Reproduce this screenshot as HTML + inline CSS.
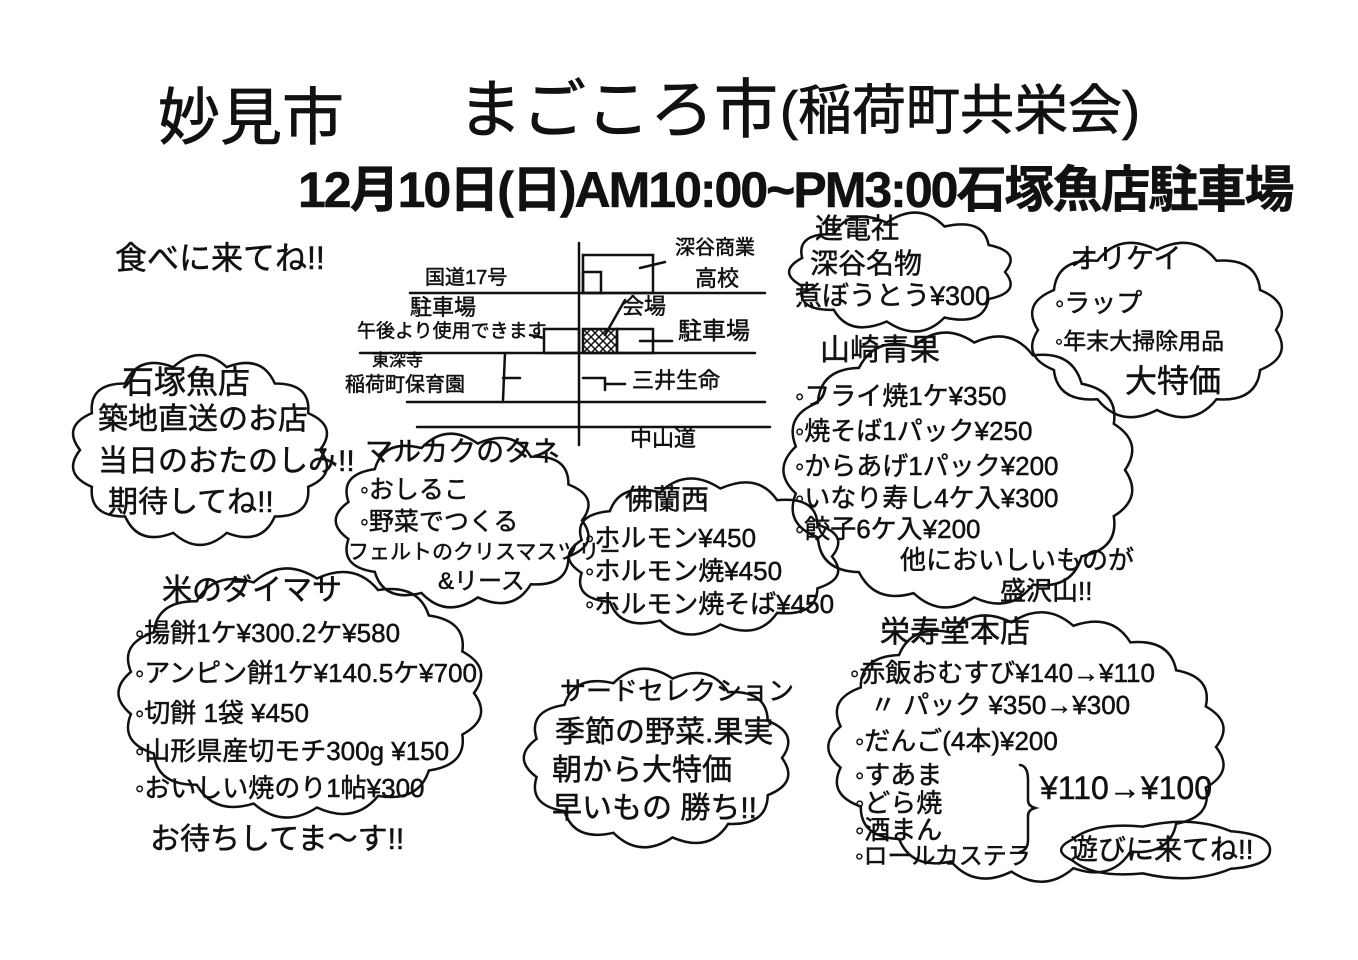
<!DOCTYPE html>
<html><head><meta charset="utf-8">
<style>
html,body{margin:0;padding:0;background:#fff;}
#w{position:relative;width:1358px;height:960px;overflow:hidden;background:#fff;font-family:"Liberation Sans","Noto Sans CJK JP",sans-serif;color:#111;}
.t{position:absolute;white-space:nowrap;line-height:1;-webkit-text-stroke:0.5px #111;}
svg{position:absolute;left:0;top:0;}
</style></head><body><div id="w">
<svg id="s" width="1358" height="960" viewBox="0 0 1358 960" fill="none" stroke="#111" stroke-width="2.5" stroke-linecap="round">
<line x1="579" y1="243" x2="579" y2="445"/>
<line x1="410" y1="293" x2="765" y2="293"/>
<line x1="360" y1="353" x2="755" y2="353"/>
<line x1="407" y1="402" x2="765" y2="402"/>
<line x1="417" y1="427" x2="770" y2="427"/>
<rect x="583" y="255" width="70" height="38"/>
<rect x="583" y="272" width="18" height="21"/>
<rect x="544" y="329" width="35" height="24"/>
<rect x="583" y="329" width="34" height="24"/>
<rect x="617" y="329" width="36" height="24"/>
<g stroke-width="1.5"><line x1="583" y1="337" x2="591" y2="329"/><line x1="583" y1="345" x2="599" y2="329"/><line x1="583" y1="353" x2="607" y2="329"/><line x1="591" y1="353" x2="615" y2="329"/><line x1="599" y1="353" x2="617" y2="335"/><line x1="607" y1="353" x2="617" y2="343"/><line x1="583" y1="345" x2="591" y2="353"/><line x1="583" y1="337" x2="599" y2="353"/><line x1="583" y1="329" x2="607" y2="353"/><line x1="591" y1="329" x2="615" y2="353"/><line x1="599" y1="329" x2="617" y2="347"/><line x1="607" y1="329" x2="617" y2="339"/></g>
<path d="M583 378 H605 V390"/>
<line x1="505" y1="353" x2="503" y2="400"/>
<line x1="503" y1="378" x2="520" y2="378"/>
<line x1="605" y1="384" x2="625" y2="384"/>
<line x1="640" y1="268" x2="665" y2="262"/>
<line x1="605" y1="335" x2="625" y2="300"/>
<line x1="530" y1="335" x2="544" y2="338"/>
<line x1="640" y1="341" x2="672" y2="341"/>
<path d="M1020 765 Q1028 766 1028 780 V800 Q1028 806 1035 808 Q1028 810 1028 816 V840 Q1028 850 1020 852"/>
</svg>
<div class="t" style="left:158px;top:88px;font-size:62px;-webkit-text-stroke:0.8px #111;">妙見市</div>
<div class="t" style="left:458px;top:78px;font-size:64px;-webkit-text-stroke:0.8px #111;">まごころ市</div>
<div class="t" style="left:780px;top:84px;font-size:54px;-webkit-text-stroke:0.8px #111;">(稲荷町共栄会)</div>
<div class="t" style="left:298px;top:165px;font-size:50px;font-weight:bold;letter-spacing:-2px;">12月10日(日)AM10:00~PM3:00石塚魚店駐車場</div>
<div class="t" style="left:115px;top:242px;font-size:32px;">食べに来てね!!</div>

<div class="t" style="left:425px;top:268px;font-size:20px;">国道17号</div>
<div class="t" style="left:410px;top:297px;font-size:22px;">駐車場</div>
<div class="t" style="left:357px;top:322px;font-size:19px;">午後より使用できます</div>
<div class="t" style="left:372px;top:352px;font-size:17px;">東深寺</div>
<div class="t" style="left:345px;top:375px;font-size:20px;">稲荷町保育園</div>
<div class="t" style="left:675px;top:238px;font-size:20px;">深谷商業</div>
<div class="t" style="left:695px;top:268px;font-size:22px;">高校</div>
<div class="t" style="left:622px;top:296px;font-size:22px;">会場</div>
<div class="t" style="left:678px;top:320px;font-size:24px;">駐車場</div>
<div class="t" style="left:632px;top:370px;font-size:22px;">三井生命</div>
<div class="t" style="left:630px;top:428px;font-size:22px;">中山道</div>

<div class="t" style="left:122px;top:366px;font-size:32px;">石塚魚店</div>
<div class="t" style="left:98px;top:405px;font-size:30px;">築地直送のお店</div>
<div class="t" style="left:98px;top:447px;font-size:30px;">当日のおたのしみ!!</div>
<div class="t" style="left:108px;top:488px;font-size:30px;">期待してね!!</div>

<div class="t" style="left:365px;top:438px;font-size:28px;">マルカクのタネ</div>
<div class="t" style="left:360px;top:478px;font-size:25px;">◦おしるこ</div>
<div class="t" style="left:360px;top:510px;font-size:25px;">◦野菜でつくる</div>
<div class="t" style="left:348px;top:542px;font-size:21px;">フェルトのクリスマスツリー</div>
<div class="t" style="left:438px;top:570px;font-size:24px;">&amp;リース</div>

<div class="t" style="left:625px;top:486px;font-size:28px;">佛蘭西</div>
<div class="t" style="left:585px;top:525px;font-size:26px;">◦ホルモン¥450</div>
<div class="t" style="left:585px;top:558px;font-size:26px;">◦ホルモン焼¥450</div>
<div class="t" style="left:585px;top:591px;font-size:26px;">◦ホルモン焼そば¥450</div>

<div class="t" style="left:815px;top:215px;font-size:28px;">進電社</div>
<div class="t" style="left:810px;top:250px;font-size:28px;">深谷名物</div>
<div class="t" style="left:795px;top:283px;font-size:27px;">煮ぼうとう¥300</div>

<div class="t" style="left:1070px;top:245px;font-size:28px;">オリケイ</div>
<div class="t" style="left:1055px;top:290px;font-size:26px;">◦ラップ</div>
<div class="t" style="left:1055px;top:330px;font-size:23px;">◦年末大掃除用品</div>
<div class="t" style="left:1125px;top:365px;font-size:32px;">大特価</div>

<div class="t" style="left:820px;top:336px;font-size:30px;">山崎青果</div>
<div class="t" style="left:795px;top:383px;font-size:26px;">◦フライ焼1ケ¥350</div>
<div class="t" style="left:795px;top:418px;font-size:26px;">◦焼そば1パック¥250</div>
<div class="t" style="left:795px;top:453px;font-size:26px;">◦からあげ1パック¥200</div>
<div class="t" style="left:795px;top:485px;font-size:26px;">◦いなり寿し4ケ入¥300</div>
<div class="t" style="left:795px;top:516px;font-size:26px;">◦餃子6ケ入¥200</div>
<div class="t" style="left:900px;top:547px;font-size:26px;">他においしいものが</div>
<div class="t" style="left:1000px;top:578px;font-size:26px;">盛沢山!!</div>

<div class="t" style="left:162px;top:576px;font-size:30px;">米のダイマサ</div>
<div class="t" style="left:135px;top:620px;font-size:26px;">◦揚餅1ケ¥300.2ケ¥580</div>
<div class="t" style="left:135px;top:660px;font-size:26px;">◦アンピン餅1ケ¥140.5ケ¥700</div>
<div class="t" style="left:135px;top:700px;font-size:26px;">◦切餅 1袋 ¥450</div>
<div class="t" style="left:135px;top:738px;font-size:26px;">◦山形県産切モチ300g ¥150</div>
<div class="t" style="left:135px;top:775px;font-size:26px;">◦おいしい焼のり1帖¥300</div>
<div class="t" style="left:150px;top:825px;font-size:30px;">お待ちしてま〜す!!</div>

<div class="t" style="left:560px;top:678px;font-size:26px;">サードセレクション</div>
<div class="t" style="left:555px;top:718px;font-size:30px;">季節の野菜.果実</div>
<div class="t" style="left:552px;top:756px;font-size:30px;">朝から大特価</div>
<div class="t" style="left:552px;top:794px;font-size:30px;">早いもの 勝ち!!</div>

<div class="t" style="left:880px;top:618px;font-size:30px;">栄寿堂本店</div>
<div class="t" style="left:850px;top:660px;font-size:26px;">◦赤飯おむすび¥140→¥110</div>
<div class="t" style="left:870px;top:692px;font-size:26px;">〃 パック ¥350→¥300</div>
<div class="t" style="left:855px;top:728px;font-size:26px;">◦だんご(4本)¥200</div>
<div class="t" style="left:855px;top:762px;font-size:26px;">◦すあま</div>
<div class="t" style="left:855px;top:790px;font-size:26px;">◦どら焼</div>
<div class="t" style="left:855px;top:817px;font-size:26px;">◦酒まん</div>
<div class="t" style="left:855px;top:845px;font-size:24px;">◦ロールカステラ</div>
<div class="t" style="left:1040px;top:772px;font-size:32px;">¥110→¥100</div>
<div class="t" style="left:1070px;top:836px;font-size:28px;">遊びに来てね!!</div>
</div>
<script>
var s=document.getElementById('s');
function cloud(x1,y1,x2,y2,n,b){b=b||11;var cx=(x1+x2)/2,cy=(y1+y2)/2,rx=(x2-x1)/2,ry=(y2-y1)/2,d='';
for(var i=0;i<=n;i++){var a=i/n*2*Math.PI,px=cx+rx*Math.cos(a),py=cy+ry*Math.sin(a);
if(i==0){d+='M'+px+' '+py;}else{var am=(i-0.5)/n*2*Math.PI;
d+=' Q'+(cx+(rx+2*b)*Math.cos(am))+' '+(cy+(ry+2*b)*Math.sin(am))+' '+px+' '+py;}}
var p=document.createElementNS('http://www.w3.org/2000/svg','path');p.setAttribute('d',d+'Z');s.appendChild(p);}
cloud(80,365,320,535,14);
cloud(345,443,582,598,13);
cloud(578,488,832,625,13);
cloud(798,222,1005,322,11);
cloud(1038,250,1276,410,12);
cloud(793,342,1125,598,17);
cloud(128,578,474,808,17);
cloud(533,678,782,838,13);
cloud(838,622,1216,872,19);
cloud(1062,826,1270,874,7,6);
</script>
</body></html>
